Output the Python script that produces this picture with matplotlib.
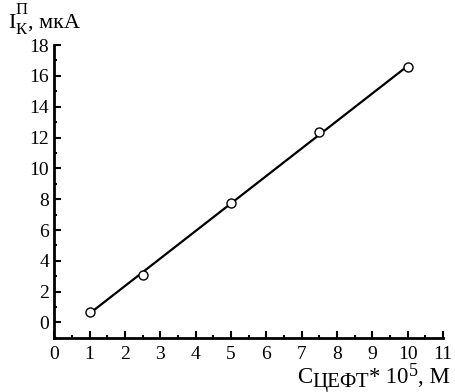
#!/usr/bin/env python3
"""Calibration line: peak current vs concentration."""

import numpy as np
import matplotlib.pyplot as plt
from matplotlib.ticker import MultipleLocator

# Data
conc = [1.0, 2.5, 5.0, 7.5, 10.0]          # C * 10^5, M
current = [0.65, 3.1, 7.75, 12.35, 16.55]  # I, uA

x_ticks = list(range(0, 12))
y_ticks = list(range(0, 19, 2))

plt.rcParams['font.family'] = ['Liberation Serif', 'DejaVu Serif']

fig = plt.figure(figsize=(4.55, 3.92), dpi=100)
ax = fig.add_axes([0.119, 0.138, 0.855, 0.747])

# linear fit through the points
k, b = np.polyfit(conc, current, 1)
xf = np.array([conc[0], conc[-1]])
ax.plot(xf, k * xf + b, color='black', linewidth=1.6)
ax.plot(conc, current, 'o', markerfacecolor='white', markeredgecolor='black',
        markersize=6.5, markeredgewidth=1.0, zorder=3)

ax.set_xlim(0, 11)
ax.set_ylim(-1, 18)
ax.set_xticks(x_ticks)
ax.set_yticks(y_ticks)
ax.xaxis.set_minor_locator(MultipleLocator(0.5))
ax.yaxis.set_minor_locator(MultipleLocator(1))
ax.tick_params(which='both', direction='in', width=1.5, labelsize=14)
ax.tick_params(which='major', length=5)
ax.tick_params(which='minor', length=2.5)
ax.tick_params(axis='x', pad=6)

for side in ('top', 'right'):
    ax.spines[side].set_visible(False)
for side in ('left', 'bottom'):
    ax.spines[side].set_linewidth(2)

renderer = fig.canvas.get_renderer()


def place_pieces(x0, y0, pieces):
    """Write text pieces one after another from pixel (x0, y0) on the baseline.
    Each piece is (text, fontsize, dy_px)."""
    x = x0
    for txt, size, dy in pieces:
        t = fig.text(x / 455, (y0 + dy) / 392, txt, fontsize=size,
                     ha='left', va='baseline')
        x += t.get_window_extent(renderer).width


# y axis label: I with sub К and sup П
t_i = fig.text(8 / 455, 364 / 392, 'I', fontsize=16, ha='left', va='baseline')
w_i = t_i.get_window_extent(renderer).width
fig.text((8 + w_i) / 455, 378 / 392, 'П', fontsize=12, ha='left', va='baseline')
t_k = fig.text((8 + w_i) / 455, 358 / 392, 'К', fontsize=12, ha='left', va='baseline')
w_k = t_k.get_window_extent(renderer).width
fig.text((9 + w_i + w_k) / 455, 364 / 392, ', мкА', fontsize=16,
         ha='left', va='baseline')

# x axis label: C with sub ЦЕФТ, then * 10^5, М
place_pieces(297, 9, [
    ('C', 16.5, 0),
    ('ЦЕФТ', 15, -4),
    ('*', 16.5, 0),
    (' 10', 16.5, 0),
    ('5', 13, 7),
    (', М', 16.5, 0),
])

fig.savefig('out.png', dpi=100)
